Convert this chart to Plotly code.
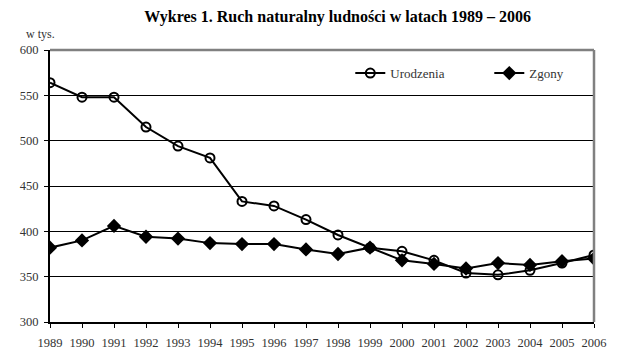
import plotly.graph_objects as go

years = list(range(1989, 2007))
urodzenia = [564, 548, 548, 515, 494, 481, 433, 428, 413, 396, 382, 378, 368, 354, 352, 357, 365, 374]
zgony = [382, 390, 406, 394, 392, 387, 386, 386, 380, 375, 382, 368, 364, 359, 365, 363, 367, 370]
y_ticks = [300, 350, 400, 450, 500, 550, 600]

font = "Liberation Serif, Times New Roman, serif"

fig = go.Figure()
fig.add_trace(go.Scatter(
    x=years, y=urodzenia, name="Urodzenia", mode="lines+markers",
    line=dict(color="black", width=2),
    marker=dict(symbol="circle-open", size=9, color="black", line=dict(width=2)),
))
fig.add_trace(go.Scatter(
    x=years, y=zgony, name="Zgony", mode="lines+markers",
    line=dict(color="black", width=2),
    marker=dict(symbol="diamond", size=11, color="black"),
))

fig.update_layout(
    width=639, height=355,
    margin=dict(l=38, r=53, t=42, b=41),
    paper_bgcolor="white", plot_bgcolor="white",
    font=dict(family=font, size=12.5, color="#333"),
    title=dict(text="<b>Wykres 1. Ruch naturalny ludności w latach 1989 – 2006</b>",
               x=0.516, xanchor="center", y=0.993, yanchor="top",
               font=dict(family=font, size=16, color="black")),
    legend=dict(orientation="h", x=0.552, y=0.915, xanchor="left", yanchor="middle",
                bgcolor="rgba(0,0,0,0)", font=dict(family=font, size=13, color="#333"),
                itemwidth=30, entrywidth=94),
    showlegend=True,
    shapes=[
        dict(type="line", xref="paper", yref="paper", x0=0, x1=1, y0=1, y1=1,
             line=dict(color="#808080", width=2.5)),
        dict(type="line", xref="paper", yref="paper", x0=1, x1=1, y0=0, y1=1,
             line=dict(color="#808080", width=2.5)),
    ],
    annotations=[
        dict(text="w tys.", xref="paper", yref="paper", x=-0.047, y=1.058,
             xanchor="left", yanchor="middle", showarrow=False,
             font=dict(family=font, size=12, color="#333")),
    ],
)
fig.update_xaxes(
    range=[1989, 2006], tickmode="array", tickvals=years,
    ticktext=[str(y) for y in years],
    showgrid=False, showline=True, linecolor="black", linewidth=2,
    ticks="outside", ticklen=4, tickcolor="black", zeroline=False,
    ticklabelstandoff=4,
)
fig.update_yaxes(
    range=[300, 600], tickmode="array", tickvals=y_ticks,
    showgrid=True, gridcolor="black", gridwidth=1,
    showline=True, linecolor="black", linewidth=2,
    ticks="outside", ticklen=4, tickcolor="black", zeroline=False,
    ticklabelstandoff=3,
)

fig.write_html("out.html", config={"displayModeBar": False})
